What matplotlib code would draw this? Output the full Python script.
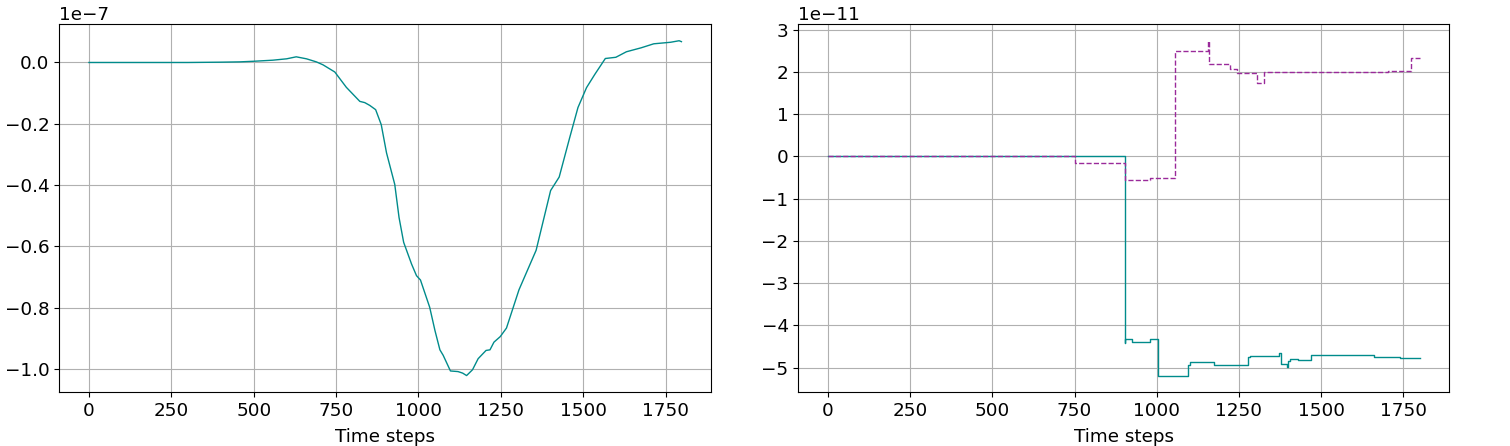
import matplotlib
matplotlib.use("Agg")
import matplotlib.pyplot as plt

# left panel: smooth curve (values in units of 1e-7)
left_steps = [0, 100, 200, 300, 400, 457, 500, 558, 600, 629, 660, 690, 710, 746, 781, 822,
              837, 852, 870, 887, 903, 928, 941, 955, 979, 994, 1006, 1034, 1050, 1065,
              1075, 1097, 1120, 1134, 1146, 1164, 1181, 1205, 1217, 1229, 1248, 1267,
              1305, 1357, 1401, 1427, 1459, 1484, 1510, 1535, 1567, 1599, 1631, 1676,
              1714, 1765, 1791, 1798]
left_vals = [0.0, 0.0, 0.0, 0.0, 0.001, 0.002, 0.004, 0.0075, 0.012, 0.0185, 0.012, 0.002,
             -0.0075, -0.031, -0.081, -0.127, -0.131, -0.140, -0.154, -0.203, -0.295,
             -0.398, -0.506, -0.587, -0.658, -0.696, -0.710, -0.799, -0.875, -0.938,
             -0.956, -1.007, -1.009, -1.014, -1.022, -1.003, -0.967, -0.940, -0.938,
             -0.913, -0.895, -0.867, -0.742, -0.613, -0.418, -0.374, -0.245, -0.147,
             -0.082, -0.039, 0.013, 0.017, 0.035, 0.048, 0.061, 0.066, 0.071, 0.068]

# right panel: step series (values in units of 1e-11)
solid_steps = [0, 903, 905, 925, 979, 1005, 1095, 1100, 1174, 1277, 1285, 1373, 1377,
               1395, 1400, 1405, 1430, 1440, 1469, 1660, 1740, 1800]
solid_vals = [0.0, -4.42, -4.32, -4.39, -4.32, -5.19, -4.95, -4.87, -4.94, -4.76, -4.72,
              -4.66, -4.91, -4.99, -4.85, -4.79, -4.81, -4.81, -4.71, -4.76, -4.78, -4.78]

dashed_steps = [0, 750, 905, 979, 1057, 1155, 1160, 1222, 1245, 1305, 1325, 1705, 1772, 1800]
dashed_vals = [0.0, -0.157, -0.567, -0.52, 2.49, 2.74, 2.19, 2.06, 1.98, 1.74, 2.0, 2.02,
               2.33, 2.33]

teal = "#008b8b"
purple = "#9a2a9a"

plt.rcParams["font.size"] = 13.2

fig = plt.figure(figsize=(15.1, 4.46), dpi=100)
ax1 = fig.add_axes([0.0393, 0.1204, 0.4316, 0.8258])
ax2 = fig.add_axes([0.5287, 0.1204, 0.4311, 0.8258])

ax1.plot(left_steps, [v * 1e-7 for v in left_vals], color=teal, lw=1.0)
ax1.set_xlabel("Time steps", labelpad=6)
ax1.grid(True)
ax1.set_xticks([0, 250, 500, 750, 1000, 1250, 1500, 1750])

ax2.step(solid_steps, [v * 1e-11 for v in solid_vals], where="post", color=teal, lw=1.0)
ax2.step(dashed_steps, [v * 1e-11 for v in dashed_vals], where="post", color=purple,
         lw=1.0, ls="--")
ax2.set_xlabel("Time steps", labelpad=6)
ax2.grid(True)
ax2.set_xticks([0, 250, 500, 750, 1000, 1250, 1500, 1750])

fig.savefig("out.png", dpi=100)
